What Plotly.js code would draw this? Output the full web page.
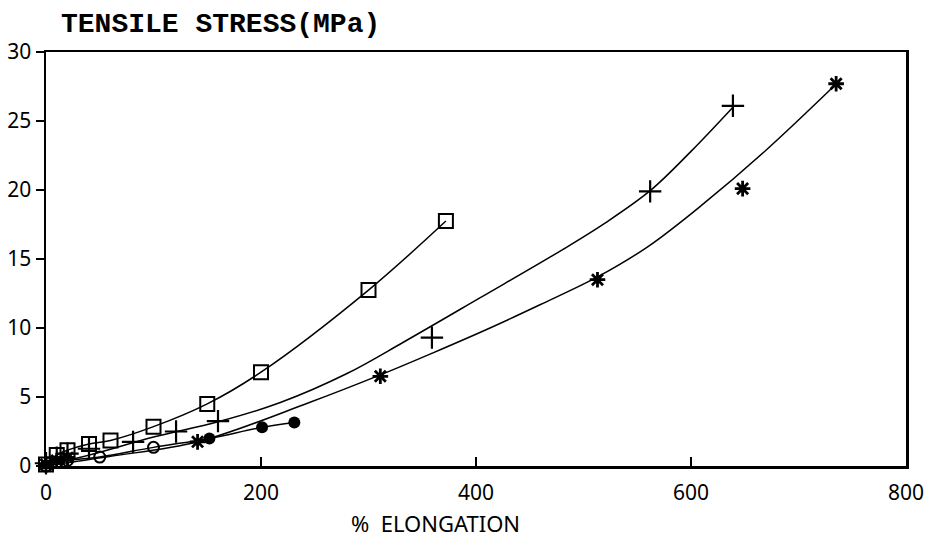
<!DOCTYPE html>
<html>
<head>
<meta charset="utf-8">
<script src="https://cdn.plot.ly/plotly-3.0.1.min.js"></script>
<style>html,body{margin:0;padding:0;background:#fff;}#chart{width:926px;height:537px;}</style>
</head>
<body>
<div id="chart"></div>
<script>
// Squares series (curve passes through the points)
const squareX = [0, 10, 20, 40, 60, 100, 150, 200, 300, 372];
const squareY = [0.1, 0.8, 1.15, 1.6, 1.85, 2.85, 4.5, 6.8, 12.75, 17.75];

// Plus series: measured points and hand-drawn fitted curve
const plusX = [0, 10, 20, 40, 81, 121, 160, 359, 562, 639];
const plusY = [0.2, 0.6, 0.9, 1.25, 1.75, 2.5, 3.25, 9.3, 19.9, 26.1];
const plusCurveX = [0, 50, 100, 160, 218, 280, 332, 404, 481, 520, 562, 600, 639];
const plusCurveY = [0, 1.0, 2.1, 3.2, 4.6, 6.7, 8.95, 12.2, 15.7, 17.6, 19.95, 22.8, 26.0];

// Asterisk series: measured points and fitted curve
const starX = [0, 10, 20, 141, 311, 513, 648, 735];
const starY = [0.1, 0.4, 0.6, 1.75, 6.5, 13.5, 20.1, 27.7];
const starCurveX = [0, 60, 141, 245, 311, 360, 413, 460, 513, 560, 610, 670, 736];
const starCurveY = [0, 0.7, 1.75, 4.6, 6.6, 8.2, 10.0, 11.7, 13.7, 15.9, 18.9, 22.9, 27.75];

// Circle series (open then filled), one curve through all
const openCircleX = [0, 10, 20, 50, 100];
const openCircleY = [0, 0.25, 0.4, 0.65, 1.35];
const filledCircleX = [152, 201, 231];
const filledCircleY = [2.0, 2.8, 3.15];

const xTicks = [0, 200, 400, 600, 800];
const yTicks = [0, 5, 10, 15, 20, 25, 30];

const lineStyle = {color: '#000', width: 1.5, shape: 'spline', smoothing: 1};
const circleCurveX = openCircleX.concat(filledCircleX);
const circleCurveY = openCircleY.concat(filledCircleY);

const traces = [
  {x: squareX, y: squareY, mode: 'lines+markers', line: lineStyle,
   marker: {symbol: 'square-open', size: 14, color: '#000', line: {width: 2, color: '#000'}}, cliponaxis: false},
  {x: plusCurveX, y: plusCurveY, mode: 'lines', line: lineStyle},
  {x: plusX, y: plusY, mode: 'markers',
   marker: {symbol: 'cross-thin', size: 16, color: '#000', line: {width: 2.2, color: '#000'}}, cliponaxis: false},
  {x: starCurveX, y: starCurveY, mode: 'lines', line: lineStyle},
  {x: starX, y: starY, mode: 'markers',
   marker: {symbol: 'asterisk', size: 13, color: '#000', line: {width: 2.8, color: '#000'}}, cliponaxis: false},
  {x: circleCurveX, y: circleCurveY, mode: 'lines', line: lineStyle},
  {x: openCircleX, y: openCircleY, mode: 'markers',
   marker: {symbol: 'circle-open', size: 11, color: '#000', line: {width: 2, color: '#000'}}, cliponaxis: false},
  {x: filledCircleX, y: filledCircleY, mode: 'markers',
   marker: {symbol: 'circle', size: 12, color: '#000'}, cliponaxis: false}
];

const tickFont = {family: 'Noto Sans, DejaVu Sans, sans-serif', size: 21, color: '#000'};

const layout = {
  width: 926, height: 537,
  margin: {l: 46, r: 20, t: 52, b: 71},
  paper_bgcolor: '#fff', plot_bgcolor: '#fff',
  showlegend: false,
  title: {
    text: 'TENSILE STRESS(MPa)',
    font: {family: 'Liberation Mono, Courier New, monospace', size: 28, color: '#000', weight: 'bold'},
    x: 61 / 926, xref: 'container', xanchor: 'left',
    y: 1 - 22 / 537, yref: 'container', yanchor: 'middle'
  },
  xaxis: {
    range: [0, 800], tickvals: xTicks, ticktext: xTicks.map(String),
    showline: true, linecolor: '#000', linewidth: 2.5, mirror: true,
    ticks: 'inside', ticklen: 9, tickwidth: 2, tickcolor: '#000',
    ticklabelstandoff: 6,
    showgrid: false, zeroline: false, tickfont: tickFont
  },
  yaxis: {
    range: [0, 30], tickvals: yTicks, ticktext: yTicks.map(String),
    showline: true, linecolor: '#000', linewidth: 2.5, mirror: true,
    ticks: 'outside', ticklen: 8, tickwidth: 2, tickcolor: '#000',
    showgrid: false, zeroline: false, tickfont: tickFont
  },
  annotations: [{
    text: '%  ELONGATION', xref: 'paper', yref: 'paper',
    x: (435 - 46) / 860, y: -(523 - 466) / 414,
    xanchor: 'center', yanchor: 'middle', showarrow: false,
    font: {family: 'Noto Sans, DejaVu Sans, sans-serif', size: 22, color: '#000'}
  }]
};

Plotly.newPlot('chart', traces, layout, {displayModeBar: false, staticPlot: true});
</script>
</body>
</html>
